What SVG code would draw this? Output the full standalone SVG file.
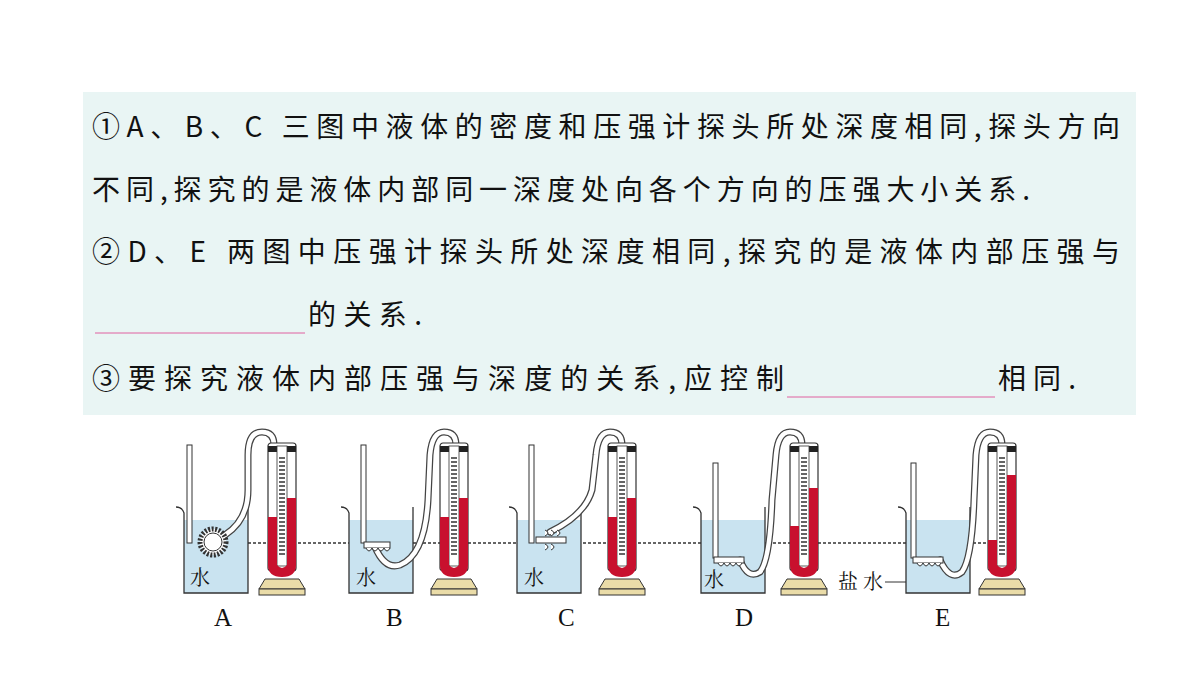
<svg xmlns="http://www.w3.org/2000/svg" width="1200" height="675" viewBox="0 0 1200 675">
<defs>
<style>
.t{font-family:"Noto Sans CJK SC","Noto Sans",sans-serif;font-size:28px;fill:#111}
.l{font-family:"Liberation Serif",serif;font-size:25px;fill:#111}
.w{font-family:"Noto Serif CJK SC","Noto Sans CJK SC",serif;font-size:20px;fill:#111}
.bk{fill:#c9e3f0;stroke:#333;stroke-width:1.3}
.gl{fill:none;stroke:#333;stroke-width:1.3}
.hose{fill:none;stroke:#444;stroke-width:7;stroke-linecap:round}
.hosei{fill:none;stroke:#fff;stroke-width:4.5;stroke-linecap:round}
.red{fill:#c8102e}
</style>
<g id="beaker"><rect x="4" y="13" width="64" height="73" fill="#c9e3f0"/><path class="gl" d="M-4,0 Q2,0 4,6 L4,86 L68,86 L68,0"/></g>
<g id="mano"><rect x="0" y="0" width="28" height="128" rx="3" fill="#fff" stroke="#333" stroke-width="1.2"/><rect x="0" y="3" width="28" height="6" fill="#222"/><rect x="9" y="3" width="10" height="120" fill="#fff" stroke="#333" stroke-width="0.8"/><path d="M-3,136 L31,136 L37,146 L-9,146 Z" fill="#eadca8" stroke="#333"/><rect x="-9" y="146" width="46" height="6" fill="#eadca8" stroke="#333"/></g>
<g id="scale"><path d="M11,15 h6 M11,19 h6 M11,23 h6 M11,27 h6 M11,31 h6 M11,35 h6 M11,39 h6 M11,43 h6 M11,47 h6 M11,51 h6 M11,55 h6 M11,59 h6 M11,63 h6 M11,67 h6 M11,71 h6 M11,75 h6 M11,79 h6 M11,83 h6 M11,87 h6 M11,91 h6 M11,95 h6 M11,99 h6 M11,103 h6 M11,107 h6 M11,111 h6" stroke="#333" stroke-width="1.3"/></g>
</defs>
<rect x="83" y="92" width="1053" height="323" fill="#e9f5f4"/>
<g id="text">
<text class="t" x="92" y="137" textLength="1028" lengthAdjust="spacing">①A、B、C 三图中液体的密度和压强计探头所处深度相同,探头方向</text>
<text class="t" x="92" y="200" textLength="938" lengthAdjust="spacing">不同,探究的是液体内部同一深度处向各个方向的压强大小关系.</text>
<text class="t" x="92" y="262" textLength="1028" lengthAdjust="spacing">②D、E 两图中压强计探头所处深度相同,探究的是液体内部压强与</text>
<text class="t" x="308" y="325" textLength="114" lengthAdjust="spacing">的关系.</text>
<text class="t" x="92" y="389" textLength="692" lengthAdjust="spacing">③要探究液体内部压强与深度的关系,应控制</text>
<text class="t" x="998" y="389" textLength="78" lengthAdjust="spacing">相同.</text>
<line x1="95" y1="333" x2="305" y2="333" stroke="#e060a0" stroke-width="1"/>
<line x1="787" y1="397" x2="995" y2="397" stroke="#e060a0" stroke-width="1"/>
</g>
<g id="connectors"><line x1="218" y1="543" x2="990" y2="543" stroke="#333" stroke-width="1.3" stroke-dasharray="3,2"/></g>
<g id="A">
<use href="#beaker" x="180" y="507"/>
<rect x="187" y="445" width="5" height="98" fill="#fff" stroke="#333"/>
<path class="hose" d="M225,535 Q248,520 248,490 L248,455 Q248,432 262,432 Q274,432 274,445"/><path class="hosei" d="M225,535 Q248,520 248,490 L248,455 Q248,432 262,432 Q274,432 274,445"/>
<circle cx="213" cy="542" r="13" fill="#fff" stroke="#333" stroke-width="5" stroke-dasharray="2,1.5"/><circle cx="213" cy="542" r="9" fill="#fff" stroke="#333"/>
<use href="#mano" x="268" y="443"/>
<path class="red" d="M268,517 h9 v48 q5,6 10,0 v-67 h9 v67 q0,12 -14,12 q-14,0 -14,-12 z"/>
<use href="#scale" x="268" y="443"/>
<text class="w" x="190" y="585">水</text><text class="l" x="214" y="626">A</text>
</g>
<g id="B">
<use href="#beaker" x="345" y="507"/>
<rect x="361" y="445" width="5" height="98" fill="#fff" stroke="#333"/>
<path class="hose" d="M375,547 Q385,570 400,565 Q425,555 428,500 L430,455 Q432,432 444,432 Q456,432 456,445"/><path class="hosei" d="M375,547 Q385,570 400,565 Q425,555 428,500 L430,455 Q432,432 444,432 Q456,432 456,445"/>
<rect x="364" y="542" width="26" height="6" fill="#fff" stroke="#333"/><path d="M366,548 q3,6 6,0 q3,6 6,0 q3,6 6,0 q3,6 6,0" fill="#fff" stroke="#333"/>
<use href="#mano" x="440" y="443"/>
<path class="red" d="M440,517 h9 v48 q5,6 10,0 v-67 h9 v67 q0,12 -14,12 q-14,0 -14,-12 z"/>
<use href="#scale" x="440" y="443"/>
<text class="w" x="356" y="585">水</text><text class="l" x="386" y="626">B</text>
</g>
<g id="C">
<use href="#beaker" x="513" y="507"/>
<rect x="529" y="445" width="5" height="98" fill="#fff" stroke="#333"/>
<path class="hose" d="M550,532 Q585,515 592,490 L596,455 Q598,432 610,432 Q622,432 622,445"/><path class="hosei" d="M550,532 Q585,515 592,490 L596,455 Q598,432 610,432 Q622,432 622,445"/>
<rect x="536" y="537" width="30" height="6" fill="#fff" stroke="#333"/><path d="M545,530 q6,3 0,6 M551,530 q6,3 0,6 M557,530 q6,3 0,6 M545,544 q6,3 0,6 M551,544 q6,3 0,6" fill="#fff" stroke="#333"/>
<use href="#mano" x="608" y="443"/>
<path class="red" d="M608,517 h9 v48 q5,6 10,0 v-67 h9 v67 q0,12 -14,12 q-14,0 -14,-12 z"/>
<use href="#scale" x="608" y="443"/>
<text class="w" x="524" y="585">水</text><text class="l" x="558" y="626">C</text>
</g>
<g id="D">
<use href="#beaker" x="697" y="507"/>
<rect x="713" y="463" width="5" height="95" fill="#fff" stroke="#333"/>
<path class="hose" d="M740,560 Q748,580 760,572 Q770,560 772,500 L776,455 Q778,432 790,432 Q802,432 802,445"/><path class="hosei" d="M740,560 Q748,580 760,572 Q770,560 772,500 L776,455 Q778,432 790,432 Q802,432 802,445"/>
<rect x="714" y="557" width="30" height="6" fill="#fff" stroke="#333"/><path d="M718,563 q3,6 6,0 q3,6 6,0 q3,6 6,0 q3,6 6,0" fill="#fff" stroke="#333"/>
<use href="#mano" x="790" y="443"/>
<path class="red" d="M790,526 h9 v39 q5,6 10,0 v-77 h9 v77 q0,12 -14,12 q-14,0 -14,-12 z"/>
<use href="#scale" x="790" y="443"/>
<text class="w" x="704" y="587">水</text><text class="l" x="735" y="626">D</text>
</g>
<g id="E">
<use href="#beaker" x="902" y="507"/>
<rect x="911" y="463" width="5" height="95" fill="#fff" stroke="#333"/>
<path class="hose" d="M940,560 Q950,582 962,572 Q972,558 974,500 L976,455 Q978,432 990,432 Q1002,432 1002,445"/><path class="hosei" d="M940,560 Q950,582 962,572 Q972,558 974,500 L976,455 Q978,432 990,432 Q1002,432 1002,445"/>
<rect x="913" y="557" width="30" height="6" fill="#fff" stroke="#333"/><path d="M917,563 q3,6 6,0 q3,6 6,0 q3,6 6,0 q3,6 6,0" fill="#fff" stroke="#333"/>
<use href="#mano" x="988" y="443"/>
<path class="red" d="M988,540 h9 v25 q5,6 10,0 v-90 h9 v90 q0,12 -14,12 q-14,0 -14,-12 z"/>
<use href="#scale" x="988" y="443"/>
<text class="w" x="838" y="589">盐 水</text><line x1="885" y1="582" x2="906" y2="582" stroke="#333"/>
<text class="l" x="935" y="626">E</text>
</g>
</svg>
